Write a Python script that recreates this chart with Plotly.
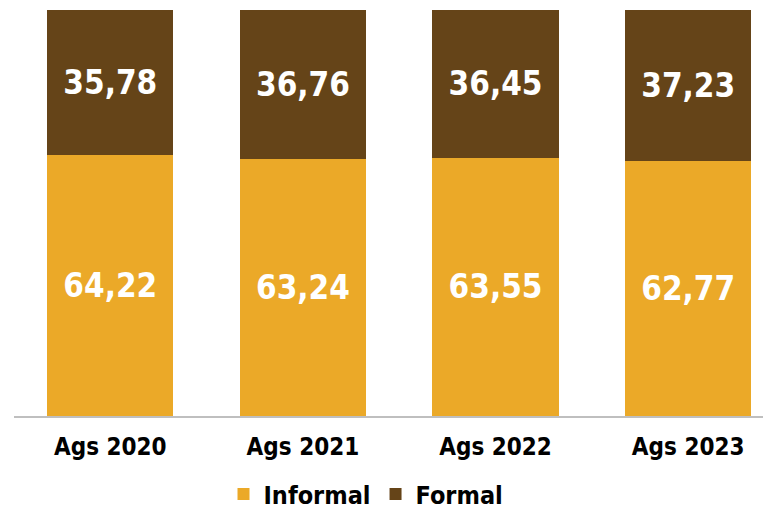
import plotly.graph_objects as go

categories = ["Ags 2020", "Ags 2021", "Ags 2022", "Ags 2023"]
informal = [64.22, 63.24, 63.55, 62.77]
formal = [35.78, 36.76, 36.45, 37.23]

GOLD = "#EBA928"
BROWN = "#654418"
FONT = "DejaVu Sans Condensed, Roboto, sans-serif"

fig = go.Figure()
fig.add_trace(go.Bar(
    x=categories, y=informal, name="Informal",
    marker=dict(color=GOLD, line=dict(width=0)),
    texttemplate="%{y:.2f}", textposition="inside", insidetextanchor="middle",
    textfont=dict(family=FONT, size=33, color="white", weight="bold"),
    constraintext="none",
))
fig.add_trace(go.Bar(
    x=categories, y=formal, name="Formal",
    marker=dict(color=BROWN, line=dict(width=0)),
    texttemplate="%{y:.2f}", textposition="inside", insidetextanchor="middle",
    textfont=dict(family=FONT, size=33, color="white", weight="bold"),
    constraintext="none",
))

fig.update_layout(
    barmode="stack",
    bargap=0.345,
    separators=",.",
    width=771, height=510,
    margin=dict(l=6, r=8, t=2, b=101),
    plot_bgcolor="white", paper_bgcolor="white",
    showlegend=True,
    legend=dict(
        orientation="h", x=0.465, xanchor="center", y=-0.19, yanchor="middle",
        font=dict(family=FONT, size=25, color="black", weight="bold"),
        traceorder="normal", itemwidth=30,
    ),
    xaxis=dict(
        range=[-0.5, 3.43], showgrid=False, showline=True,
        linecolor="#BFBFBF", linewidth=1.5, ticks="", ticklabelstandoff=8,
        tickfont=dict(family=FONT, size=24, color="black", weight="bold"),
    ),
    yaxis=dict(range=[0, 100], visible=False, showgrid=False),
)

fig.write_html("out.html")
